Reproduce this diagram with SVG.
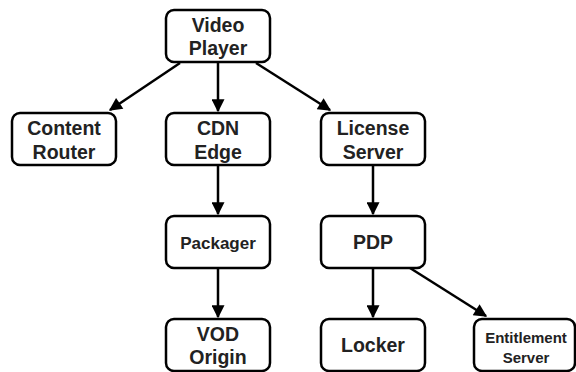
<svg xmlns="http://www.w3.org/2000/svg" width="576" height="372" viewBox="0 0 576 372">
  <style>
    .box { fill: #ffffff; stroke: #000000; stroke-width: 2.5; }
    .lbl { font-family: "Liberation Sans", Arial, sans-serif; font-weight: bold; fill: #222222; text-anchor: middle; }
    .big { font-size: 19.5px; }
    .mid { font-size: 17px; }
    .sm { font-size: 15px; }
    .edge { stroke: #000000; stroke-width: 2.5; fill: none; marker-end: url(#arrow); }
  </style>
  <defs>
    <marker id="arrow" viewBox="0 0 10 10" refX="9" refY="5" markerWidth="5.6" markerHeight="5.2" orient="auto" markerUnits="strokeWidth">
      <path d="M0,0 L10,5 L0,10 z" fill="#000000"/>
    </marker>
  </defs>

  <g id="connectors">
    <line class="edge" x1="180" y1="63" x2="110" y2="110"/>
    <line class="edge" x1="218" y1="63" x2="218" y2="111"/>
    <line class="edge" x1="256" y1="63" x2="330" y2="110"/>
    <line class="edge" x1="218" y1="166" x2="218" y2="214"/>
    <line class="edge" x1="218" y1="269" x2="218" y2="317"/>
    <line class="edge" x1="373" y1="166" x2="373" y2="214"/>
    <line class="edge" x1="373" y1="269" x2="373" y2="317"/>
    <line class="edge" x1="410" y1="268" x2="486" y2="316"/>
  </g>

  <g id="video-player">
    <rect class="box" x="166" y="10" width="104" height="52" rx="8"/>
    <text class="lbl big" x="218" y="32">Video</text>
    <text class="lbl big" x="218" y="55">Player</text>
  </g>
  <g id="content-router">
    <rect class="box" x="12" y="113" width="104" height="52" rx="8"/>
    <text class="lbl big" x="64" y="135">Content</text>
    <text class="lbl big" x="64" y="159">Router</text>
  </g>
  <g id="cdn-edge">
    <rect class="box" x="166" y="113" width="104" height="52" rx="8"/>
    <text class="lbl big" x="218" y="135">CDN</text>
    <text class="lbl big" x="218" y="159">Edge</text>
  </g>
  <g id="license-server">
    <rect class="box" x="321" y="113" width="104" height="52" rx="8"/>
    <text class="lbl big" x="373" y="135">License</text>
    <text class="lbl big" x="373" y="159">Server</text>
  </g>
  <g id="packager">
    <rect class="box" x="166" y="216" width="104" height="52" rx="8"/>
    <text class="lbl mid" x="218" y="249">Packager</text>
  </g>
  <g id="pdp">
    <rect class="box" x="321" y="216" width="104" height="52" rx="8"/>
    <text class="lbl big" x="373" y="249">PDP</text>
  </g>
  <g id="vod-origin">
    <rect class="box" x="166" y="319" width="104" height="52" rx="8"/>
    <text class="lbl big" x="218" y="341">VOD</text>
    <text class="lbl big" x="218" y="364">Origin</text>
  </g>
  <g id="locker">
    <rect class="box" x="321" y="319" width="104" height="52" rx="8"/>
    <text class="lbl big" x="373" y="352">Locker</text>
  </g>
  <g id="entitlement-server">
    <rect class="box" x="474" y="319" width="101" height="52" rx="8"/>
    <text class="lbl sm" x="526" y="343">Entitlement</text>
    <text class="lbl sm" x="526" y="363">Server</text>
  </g>
</svg>
